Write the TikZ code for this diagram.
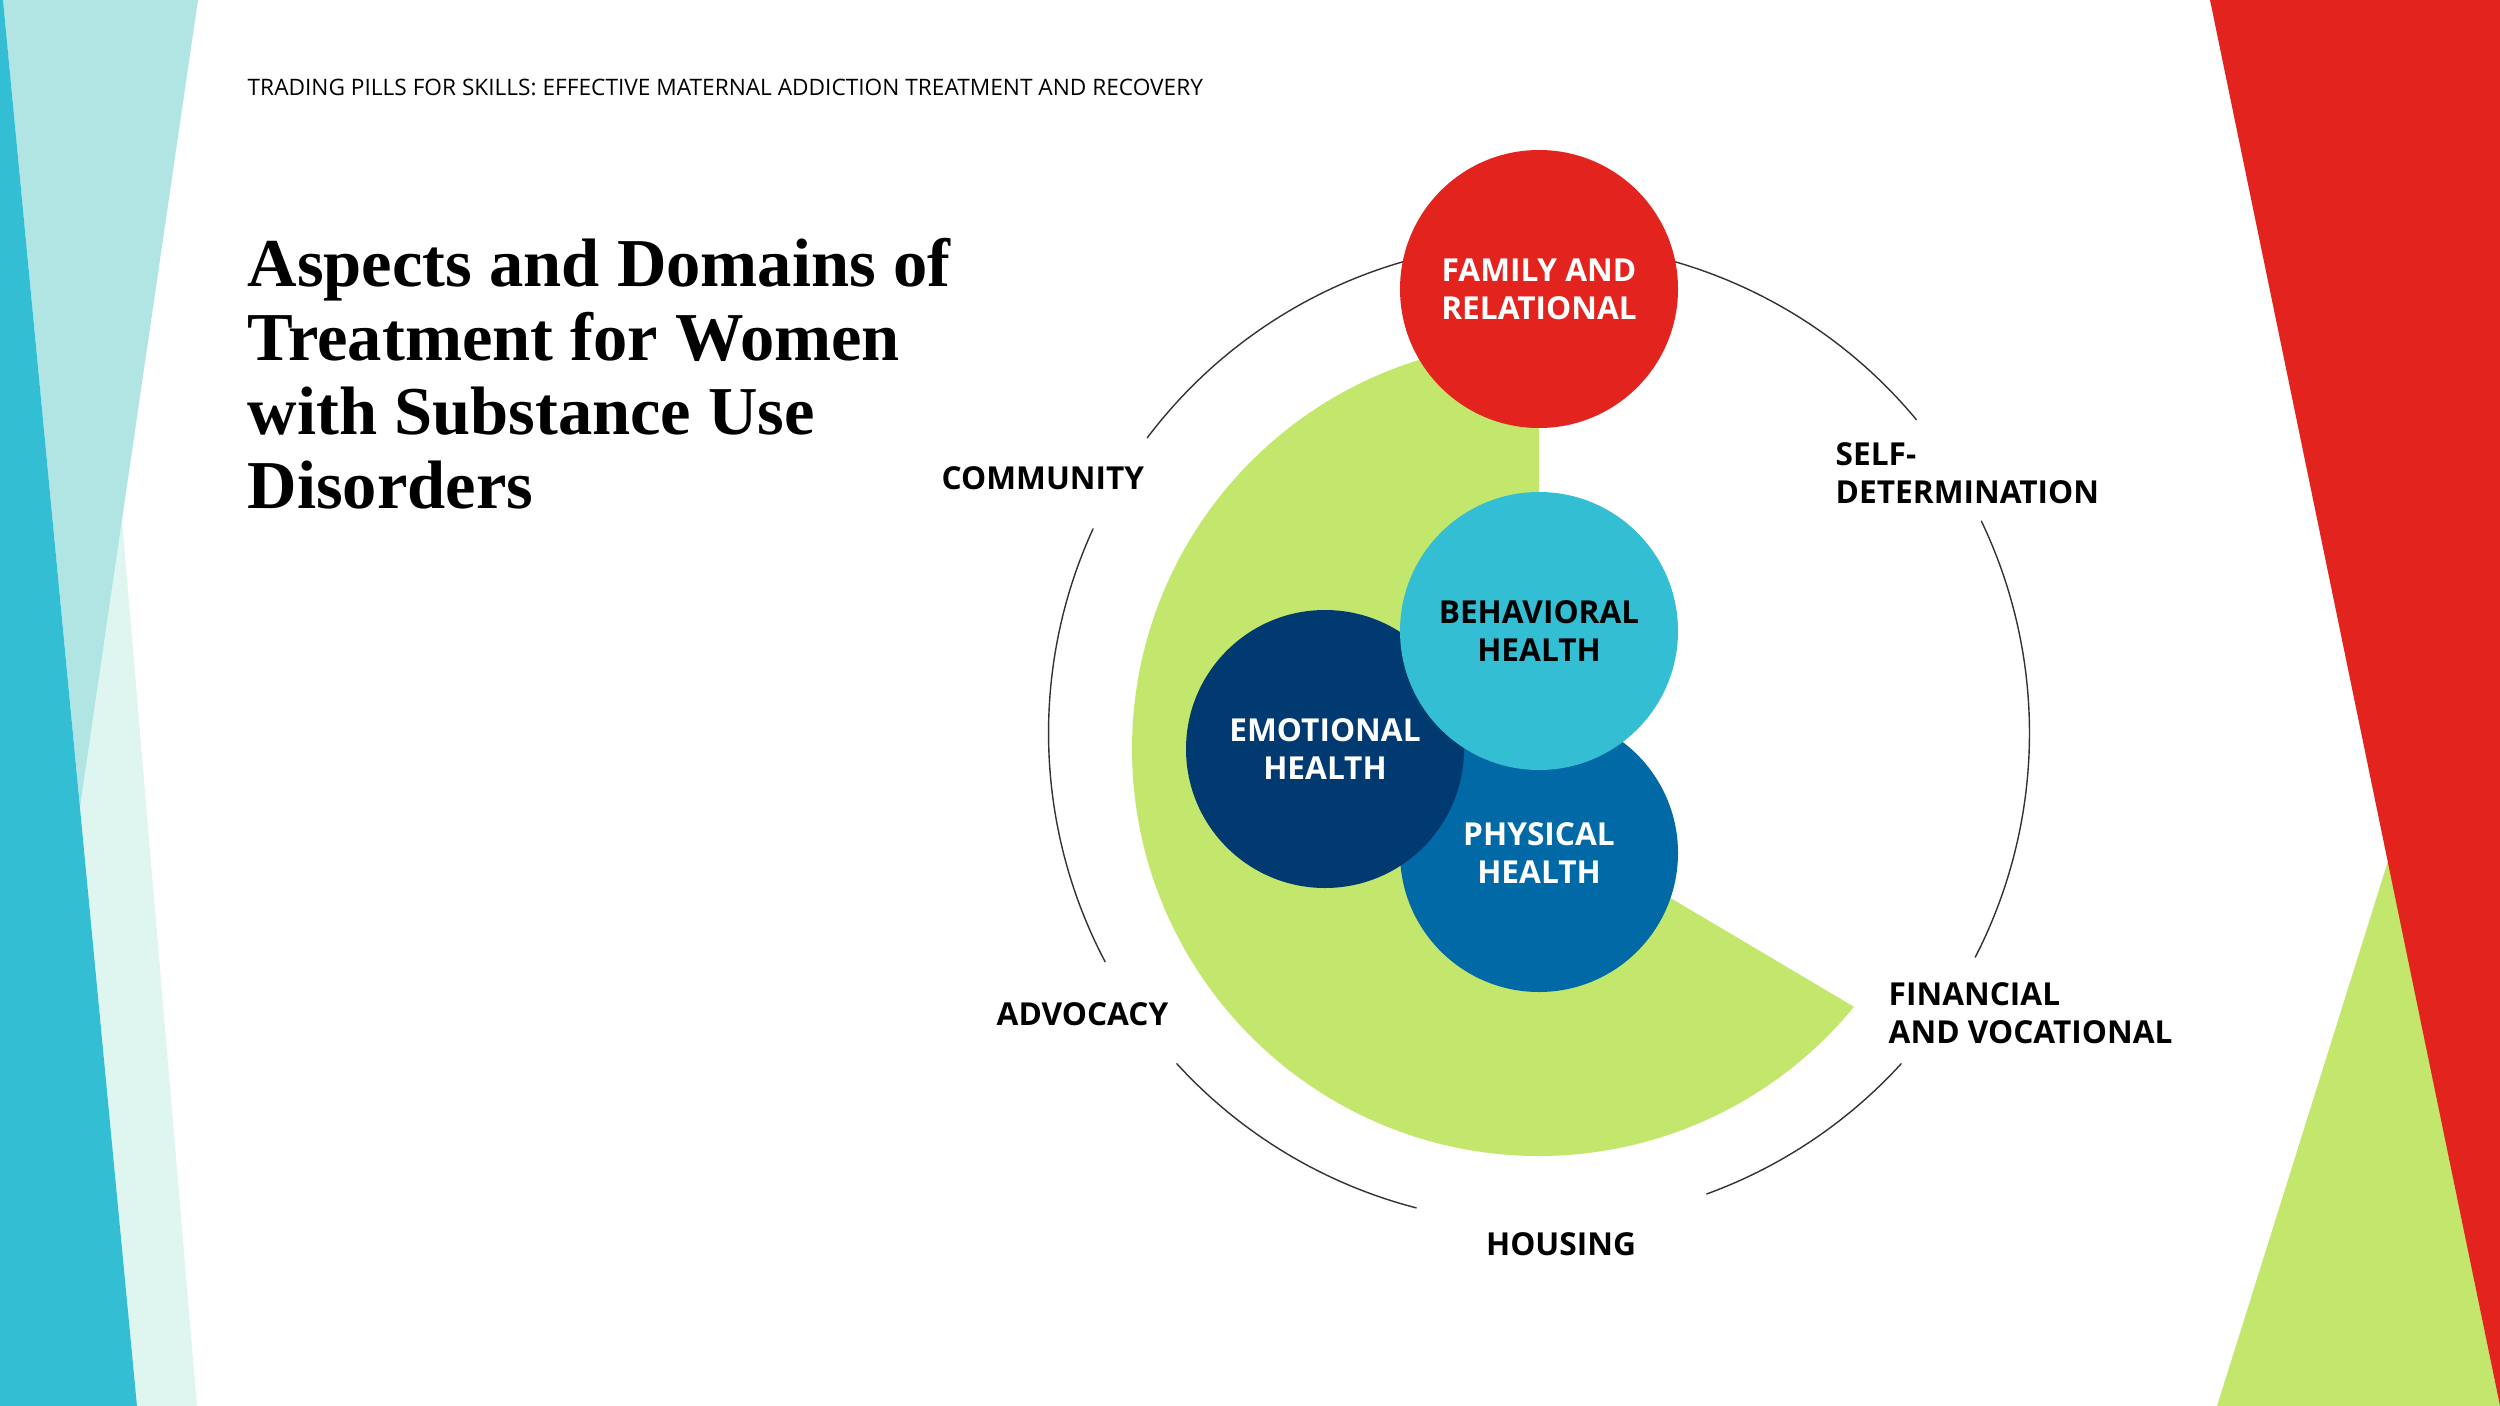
\documentclass[tikz,border=0pt]{standalone}
\usepackage{fontspec}
\setmainfont{Open Sans}
\newfontfamily\headfont{Liberation Serif}
\definecolor{fillred}{HTML}{E3231E}
\definecolor{fillgreen}{HTML}{C3E76D}
\definecolor{fillcyan}{HTML}{33BED4}
\definecolor{fillpale}{HTML}{B1E5E3}
\definecolor{fillmint}{HTML}{DFF5F0}
\definecolor{fillnavy}{HTML}{003A70}
\definecolor{fillblue}{HTML}{0069A6}

\begin{document}
\begin{tikzpicture}[line cap=round,line join=round,
  dom/.style={circle,minimum size=2.78cm,inner sep=0pt,align=center,text=white,font=\bfseries\fontsize{9}{10.8}\selectfont},
  lab/.style={align=left,inner sep=0pt,font=\bfseries\fontsize{9}{10.9}\selectfont}]
\useasboundingbox (0,0) rectangle (25,-14.06);
\fill[white] (0,0) rectangle (25,-14.06);
\fill[fillmint] (0.80,-8.07)--(1.22,-5.20)--(1.97,-14.06)--(1.37,-14.06)--cycle;
\fill[fillpale] (0.03,0)--(1.98,0)--(0.80,-8.07)--cycle;
\fill[fillcyan] (0,0)--(0.03,0)--(1.37,-14.06)--(0,-14.06)--cycle;
\fill[fillgreen] (23.88,-8.61)--(22.17,-14.06)--(25,-14.06)--cycle;
\fill[fillred] (22.10,0)--(25,0)--(25,-14.06)--cycle;
\node[anchor=base west,inner sep=0pt,font=\fontsize{6.45}{7.5}\selectfont] (head) at (2.47,-0.96) {TRADING PILLS FOR SKILLS: EFFECTIVE MATERNAL ADDICTION TREATMENT AND RECOVERY};
\foreach \t [count=\i] in {Aspects and Domains of,Treatment for Women,with Substance Use,Disorders}{\node[anchor=base west,inner sep=0pt,font=\headfont\bfseries\fontsize{19.5}{21}\selectfont] (title\i) at (2.47,{-2.86-0.74*(\i-1)}) {\t};}
\coordinate (ringc) at (15.39,-7.33);
\coordinate (greenc) at (15.39,-7.49);
\fill[fillgreen] (15.39,-8.20)--([shift={(90:4.07)}]greenc) arc[start angle=90,end angle=320.7,radius=4.07]--cycle;
\foreach \a/\b in {39.7/143,155.4/207.8,222.4/255.5,290/317.6,332.8/385.6}{\draw[black!80,line width=0.4pt] ([shift={(\a:4.905)}]ringc) arc[start angle=\a,end angle=\b,radius=4.905];}
\node[dom,fill=fillred] (family) at (15.39,-2.89) {FAMILY AND\\RELATIONAL};
\node[dom,fill=fillblue] (physical) at (15.39,-8.53) {PHYSICAL\\HEALTH};
\node[dom,fill=fillnavy] (emotional) at (13.25,-7.49) {EMOTIONAL\\HEALTH};
\node[dom,fill=fillcyan,text=black] (behavioral) at (15.39,-6.31) {BEHAVIORAL\\HEALTH};
\node[lab,anchor=west] (community) at (9.41,-4.78) {COMMUNITY};
\node[lab,anchor=west] (selfdet) at (18.35,-4.73) {SELF-\\DETERMINATION};
\node[lab,anchor=west] (advocacy) at (9.96,-10.14) {ADVOCACY};
\node[lab] (housing) at (15.61,-12.44) {HOUSING};
\node[lab,anchor=west] (financial) at (18.88,-10.13) {FINANCIAL\\AND VOCATIONAL};
\end{tikzpicture}
\end{document}
